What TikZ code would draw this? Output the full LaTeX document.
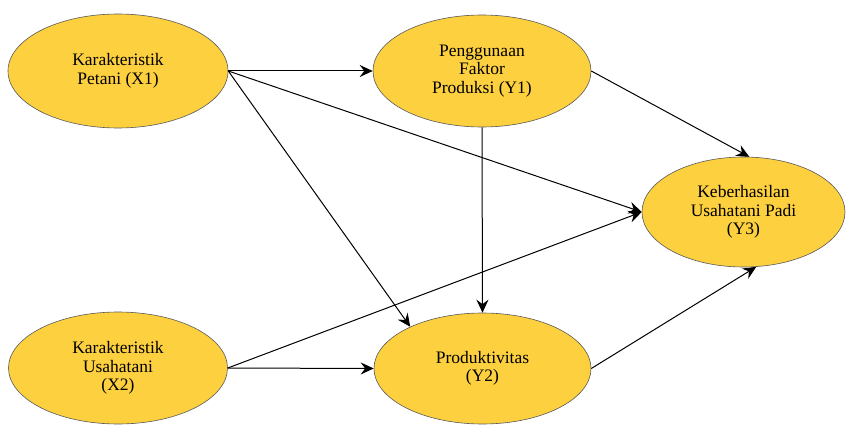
\documentclass[tikz,border=0pt]{standalone}
\usepackage{fontspec}
\setmainfont{Liberation Serif}
\usetikzlibrary{shapes.geometric,arrows.meta}
\definecolor{kuning}{RGB}{253,208,63}
\begin{document}
\begin{tikzpicture}[x=1pt,y=-1pt,
    latent/.style={ellipse,draw=black!65,line width=0.6pt,fill=kuning,inner sep=0pt,
      align=center,font=\fontsize{17.5}{18.5}\selectfont},
    path/.style={-{Stealth[length=13pt,width=12pt,inset=4.5pt]},line width=1pt}]
                \useasboundingbox (0,0) rectangle (849,425);
                \path (118,71) node[latent,minimum width=220pt,minimum height=114pt] (X1) {Karakteristik\\Petani (X1)};
                \path (482,71) node[latent,minimum width=218pt,minimum height=112pt] (Y1) {Penggunaan\\Faktor\\Produksi (Y1)};
                \path (743.5,212) node[latent,minimum width=203pt,minimum height=110pt] (Y3) {Keberhasilan\\Usahatani Padi\\(Y3)};
                \path (118,368) node[latent,minimum width=219pt,minimum height=112pt] (X2) {Karakteristik\\Usahatani\\(X2)};
                \path (482.5,368.5) node[latent,minimum width=217pt,minimum height=111pt] (Y2) {Produktivitas\\(Y2)};

                \draw[path] (X1.east) -- (Y1.west);
                \draw[path] (X1.east) -- (Y2.150);
                \draw[path] (X1.east) -- (Y3.west);
                \draw[path] (Y1.east) -- (Y3.84);
                \draw[path] (Y1.south) -- (Y2.north);
                \draw[path] (X2.east) -- (Y2.west);
                \draw[path] (X2.east) -- (Y3.west);
                \draw[path] (Y2.east) -- (Y3.283);
              \end{tikzpicture}
\end{document}
